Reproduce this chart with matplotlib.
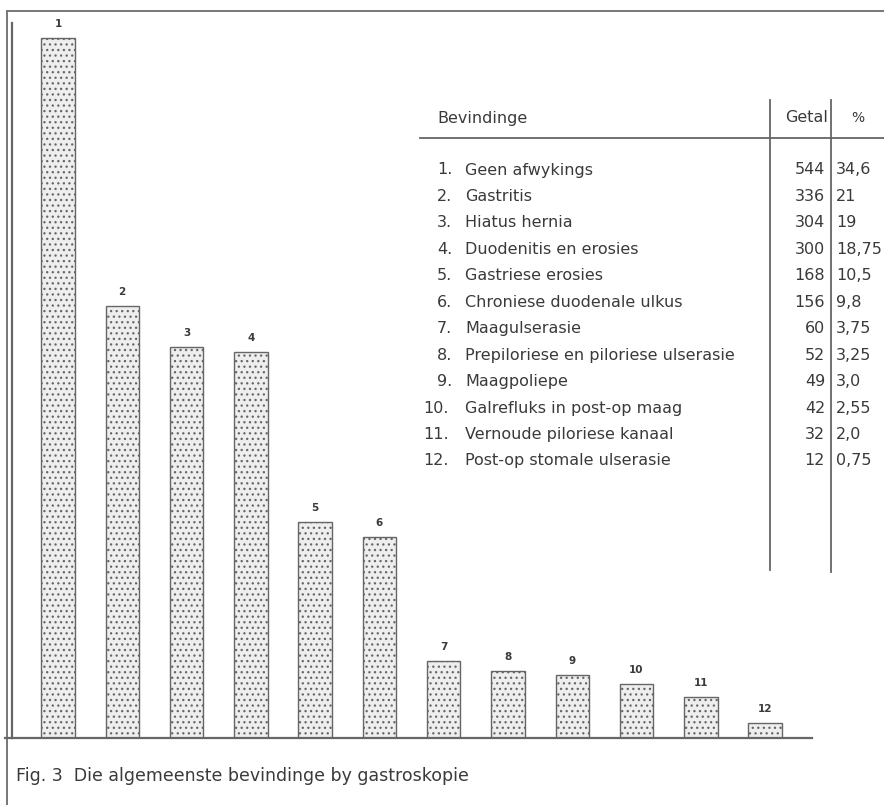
import matplotlib

matplotlib.use("Agg")
import matplotlib.pyplot as plt
import numpy as np

plt.rcParams["font.family"] = ["DejaVu Sans"]
plt.rcParams["hatch.color"] = "#a0a0a0"
plt.rcParams["hatch.linewidth"] = 0.9

bar_labels = ["1", "2", "3", "4", "5", "6", "7", "8", "9", "10", "11", "12"]
findings = [
    "Geen afwykings",
    "Gastritis",
    "Hiatus hernia",
    "Duodenitis en erosies",
    "Gastriese erosies",
    "Chroniese duodenale ulkus",
    "Maagulserasie",
    "Prepiloriese en piloriese ulserasie",
    "Maagpoliepe",
    "Galrefluks in post-op maag",
    "Vernoude piloriese kanaal",
    "Post-op stomale ulserasie",
]
getal = [544, 336, 304, 300, 168, 156, 60, 52, 49, 42, 32, 12]
percent = ["34,6", "21", "19", "18,75", "10,5", "9,8", "3,75", "3,25", "3,0", "2,55", "2,0", "0,75"]

W, H = 884, 805
ink = "#3a3a3a"
line_c = "#666666"

fig = plt.figure(figsize=(W / 100, H / 100), dpi=100)
fig.patch.set_facecolor("white")

# overlay in pixel coordinates for frame, table and caption
over = fig.add_axes([0, 0, 1, 1])
over.set_xlim(0, W)
over.set_ylim(H, 0)
over.axis("off")

# bar chart axes
left_px, right_px, top_px, base_px = 12, 812, 23, 738
ax = fig.add_axes([left_px / W, (H - base_px) / H, (right_px - left_px) / W, (base_px - top_px) / H])
ax.set_facecolor("none")
x = np.arange(len(getal))
ax.bar(x, getal, width=0.52, facecolor="#eeeeee", edgecolor="#666666",
       hatch="...", linewidth=1.0)
for xi, v, lab in zip(x, getal, bar_labels):
    ax.text(xi, v + 7, lab, ha="center", va="bottom", fontsize=7.5,
            fontweight="bold", color=ink)
ax.set_xlim(-0.715, 11.73)
ax.set_ylim(0, 556)
ax.set_xticks([])
ax.set_yticks([])
for s in ["top", "right"]:
    ax.spines[s].set_visible(False)
for s in ["left", "bottom"]:
    ax.spines[s].set_color(line_c)
    ax.spines[s].set_linewidth(1.6)

# outer frame
over.plot([7, W], [11, 11], color="#777777", lw=1.4)
over.plot([7, 7], [11, H], color="#777777", lw=1.4)
over.plot([5, 12], [base_px, base_px], color=line_c, lw=1.6)

# table
fs = 11.5
over.text(437, 118, "Bevindinge", fontsize=11.5, color=ink, va="center", ha="left")
over.text(828, 118, "Getal", fontsize=11.5, color=ink, va="center", ha="right")
over.text(858, 118, "%", fontsize=10, color=ink, va="center", ha="center")
over.plot([420, W], [138, 138], color=line_c, lw=1.3)
over.plot([770, 770], [100, 570], color=line_c, lw=1.3)
over.plot([831, 831], [100, 572], color=line_c, lw=1.3)

row0, step = 170, 26.45
for i, (name, n, p) in enumerate(zip(findings, getal, percent)):
    y = row0 + i * step
    num_x = 437 if i < 9 else 423
    over.text(num_x, y, f"{i + 1}.", fontsize=fs, color=ink, va="center", ha="left")
    over.text(465, y, name, fontsize=fs, color=ink, va="center", ha="left")
    over.text(825, y, str(n), fontsize=fs, color=ink, va="center", ha="right")
    over.text(836, y, p, fontsize=fs, color=ink, va="center", ha="left")

# caption
over.text(16, 776, "Fig. 3  Die algemeenste bevindinge by gastroskopie",
          fontsize=12.5, color=ink, va="center", ha="left")

fig.savefig("out.png", dpi=100)
